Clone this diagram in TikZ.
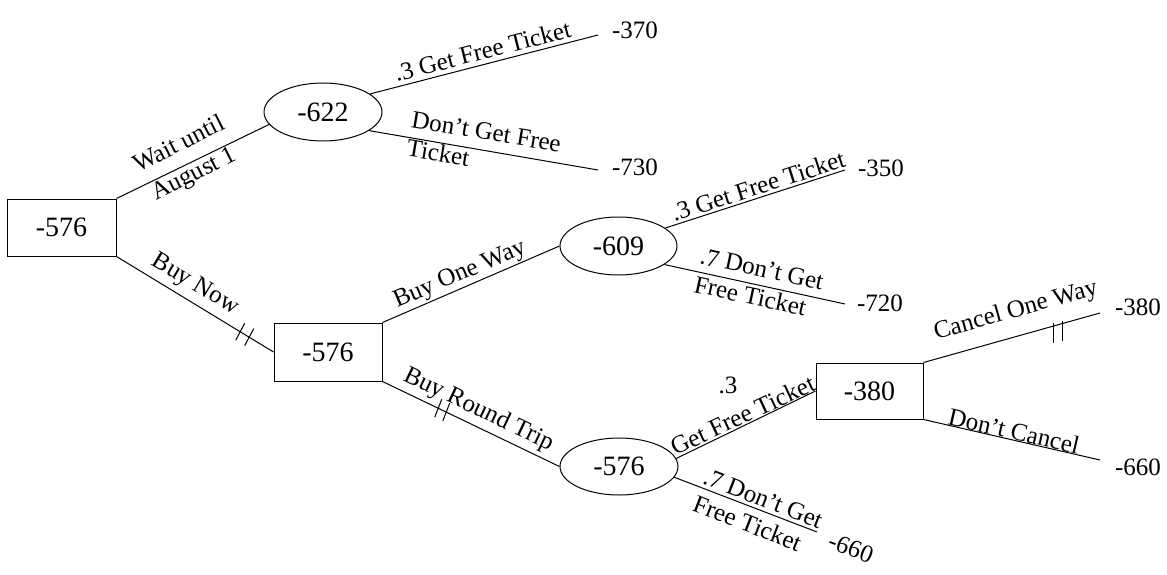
\documentclass[tikz,border=0pt]{standalone}
\usepackage{fontspec}
\setmainfont{Liberation Serif}
\usetikzlibrary{shapes.geometric,calc}
\begin{document}
\begin{tikzpicture}[x=1pt,y=-1pt,line width=1pt,
  decision/.style={draw, rectangle, inner sep=0pt, font=\fontsize{28}{32}\selectfont},
  chance/.style={draw, ellipse, inner sep=0pt, font=\fontsize{28}{32}\selectfont},
  lbl/.style={inner sep=0pt, font=\fontsize{25}{29}\selectfont},
  payoff/.style={inner sep=0pt, font=\fontsize{25}{29}\selectfont},
  hashmark/.style={line width=1pt}]
\useasboundingbox (0,0) rectangle (1167,575);

% decision and chance nodes
\node[decision, minimum width=109pt, minimum height=57pt] (root) at (61.5,227.5) {-576};
\node[chance, minimum width=118pt, minimum height=58pt] (A) at (323,112) {-622};
\node[chance, minimum width=117pt, minimum height=58pt] (B) at (618.5,246) {-609};
\node[decision, minimum width=108pt, minimum height=58pt] (C) at (328,352) {-576};
\node[chance, minimum width=118pt, minimum height=57pt] (D) at (619,466.5) {-576};
\node[decision, minimum width=107pt, minimum height=56pt] (E) at (869.5,391) {-380};

% free ends of the terminal branches
\coordinate (a1) at (598,35);
\coordinate (a2) at (598,170);
\coordinate (b1) at (845,170);
\coordinate (b2) at (845,304);
\coordinate (d2) at (817,532);
\coordinate (e1) at (1100,313);
\coordinate (e2) at (1100,460);

% branches
\draw (root.north east) -- (A.193);
\draw (root.south east) -- (C.west);
\draw (A.21) -- (a1);
\draw (A.-22) -- (a2);
\draw (C.north east) -- (B.west);
\draw (C.south east) -- (D.west);
\draw (B.21) -- (b1);
\draw (B.-22) -- (b2);
\draw (D.8) -- (E.west);
\draw (D.-11) -- (d2);
\draw (E.north east) -- (e1);
\draw (E.south east) -- (e2);

% pruned-branch marks
\path (root.south east) -- (C.west) coordinate[pos=0.788] (h1) coordinate[pos=0.845] (h2);
\path (C.south east) -- (D.west) coordinate[pos=0.315] (h3) coordinate[pos=0.36] (h4);
\path (E.north east) -- (e1) coordinate[pos=0.734] (h5) coordinate[pos=0.785] (h6);
\foreach \h in {h1,h2} \draw[hashmark] ($(\h)+(-4.5,8.5)$) -- ($(\h)+(4.5,-8.5)$);
\foreach \h in {h3,h4} \draw[hashmark] ($(\h)+(-3.5,9)$) -- ($(\h)+(3.5,-9)$);
\foreach \h in {h5,h6} \draw[hashmark] ($(\h)+(0,-3)$) -- ($(\h)+(0,17)$);

% branch labels
\node[lbl, rotate=26.9, align=center, font=\fontsize{25}{33}\selectfont] (lWait) at (187,160) {Wait until\\August 1};
\node[lbl, rotate=14.4] (lA1) at (482.5,51) {.3 Get Free Ticket};
\node[lbl, rotate=-9.5, align=left] (lA2) at (484,146) {Don’t Get Free\\Ticket};
\node[lbl, rotate=-31] (lNow) at (195,285) {Buy Now};
\node[lbl, rotate=23.1] (lOne) at (460,275) {Buy One Way};
\node[lbl, rotate=-25.5] (lRound) at (478.5,410) {Buy Round Trip};
\node[lbl, rotate=17.9] (lB1) at (758,186) {.3 Get Free Ticket};
\node[lbl, rotate=-12.1, align=left] (lB2) at (759,283) {.7 Don’t Get\\Free Ticket};
\node[lbl, rotate=25] (lD1) at (742.5,415) {Get Free Ticket};
\node[lbl] (lD1p) at (728,385) {.3};
\node[lbl, rotate=-21.2, align=left] (lD2) at (758,512) {.7 Don’t Get\\Free Ticket};
\node[lbl, rotate=15.8] (lE1) at (1016,311) {Cancel One Way};
\node[lbl, rotate=-13] (lE2) at (1014,431) {Don’t Cancel};

% payoffs
\node[payoff] (pA1) at (635,30) {-370};
\node[payoff] (pA2) at (635,167) {-730};
\node[payoff] (pB1) at (881,168) {-350};
\node[payoff] (pB2) at (880,303) {-720};
\node[payoff] (pE1) at (1138,307) {-380};
\node[payoff] (pE2) at (1138,467) {-660};
\node[payoff, rotate=-21] (pD2) at (851,548) {-660};
\end{tikzpicture}
\end{document}
